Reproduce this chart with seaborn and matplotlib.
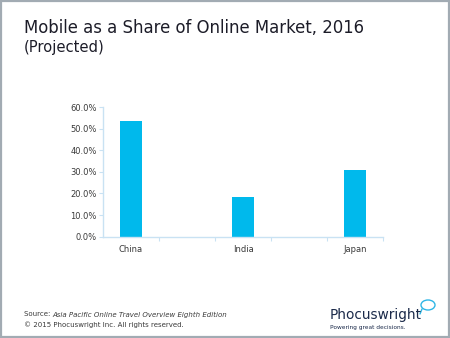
import matplotlib
matplotlib.use("Agg")
import matplotlib.pyplot as plt
from matplotlib.patches import Rectangle, Ellipse
from matplotlib.ticker import FixedLocator, FuncFormatter
import seaborn as sns
import pandas as pd

# Mobile share of online travel market, 2016 (projected), percent
countries = ["China", "India", "Japan"]
mobile_share = [53.4, 18.5, 30.9]
# Spacer slots between the countries on the category axis
slot_order = ["China", "gap1", "India", "gap2", "Japan"]
slot_labels = ["China", "", "India", "", "Japan"]
y_ticks = [0, 10, 20, 30, 40, 50, 60]

sns.set_theme(style="white")
plt.rcParams["font.family"] = ["DejaVu Sans"]

BAR = "#00b9ec"
AXIS = "#c9e2f3"
TEXT = "#3a3a3a"

fig = plt.figure(figsize=(4.5, 3.38), dpi=100)
ax = fig.add_axes([0.2289, 0.2997, 0.6229, 0.3837])

df = pd.DataFrame({"country": countries, "share": mobile_share})
sns.barplot(data=df, x="country", y="share", order=slot_order,
            color=BAR, saturation=1, width=0.4, ax=ax, edgecolor="none")

ax.set_ylim(0, 60)
ax.set_xlim(-0.5, 4.5)
ax.set_yticks(y_ticks)
ax.yaxis.set_major_formatter(FuncFormatter(lambda v, _: f"{v:.1f}%"))
ax.set_xticks(range(len(slot_order)))
ax.set_xticklabels(slot_labels)
ax.xaxis.set_minor_locator(FixedLocator([0.5, 1.5, 2.5, 3.5, 4.5]))
ax.set_xlabel("")
ax.set_ylabel("")

for side in ["top", "right"]:
    ax.spines[side].set_visible(False)
for side in ["left", "bottom"]:
    ax.spines[side].set_color(AXIS)
    ax.spines[side].set_linewidth(1.0)

ax.tick_params(axis="y", which="major", left=True, length=3, width=0.8,
               color=AXIS, labelsize=6, labelcolor=TEXT, pad=1.5)
ax.tick_params(axis="x", which="major", bottom=False, length=0,
               labelsize=6, labelcolor=TEXT, pad=6)
ax.tick_params(axis="x", which="minor", bottom=True, length=3, width=0.8,
               color=AXIS, direction="out")

# Titles
fig.text(24 / 450, 1 - 33 / 338, "Mobile as a Share of Online Market, 2016",
         fontsize=11.9, color="#1c1c28", ha="left", va="baseline")
fig.text(24 / 450, 1 - 52 / 338, "(Projected)",
         fontsize=10.6, color="#1c1c28", ha="left", va="baseline")

# Source note: plain prefix followed by the italic publication title
renderer = fig.canvas.get_renderer()
src = fig.text(24 / 450, 1 - 316.5 / 338, "Source: ", fontsize=5,
               color=TEXT, ha="left", va="baseline")
src_end = src.get_window_extent(renderer).x1 / fig.bbox.width
fig.text(src_end, 1 - 316.5 / 338,
         "Asia Pacific Online Travel Overview Eighth Edition",
         fontsize=5, color=TEXT, style="italic", ha="left", va="baseline")
fig.text(24 / 450, 1 - 326.5 / 338,
         "\u00a9 2015 Phocuswright Inc. All rights reserved.",
         fontsize=5, color=TEXT, ha="left", va="baseline")

# Logo
NAVY = "#1b2a4a"
fig.text(330 / 450, 1 - 319 / 338, "Phocuswright", fontsize=9.8,
         color=NAVY, ha="left", va="baseline")
fig.text(330 / 450, 1 - 328.5 / 338, "Powering great decisions.",
         fontsize=4.2, color=NAVY, ha="left", va="baseline")
fig.add_artist(Ellipse((428 / 450, 1 - 305 / 338), 14 / 450, 10 / 338,
                       transform=fig.transFigure, fill=False,
                       edgecolor="#2fb6e6", linewidth=1.0))
fig.add_artist(plt.Line2D([422 / 450, 420 / 450],
                          [1 - 309 / 338, 1 - 314 / 338],
                          transform=fig.transFigure, color="#2fb6e6",
                          linewidth=1.0))

# Frame around the slide
fig.add_artist(Rectangle((0.002, 0.003), 0.996, 0.994, transform=fig.transFigure,
                         fill=False, edgecolor="#a2abb3", linewidth=1.6))

fig.savefig("out.png", dpi=100)
